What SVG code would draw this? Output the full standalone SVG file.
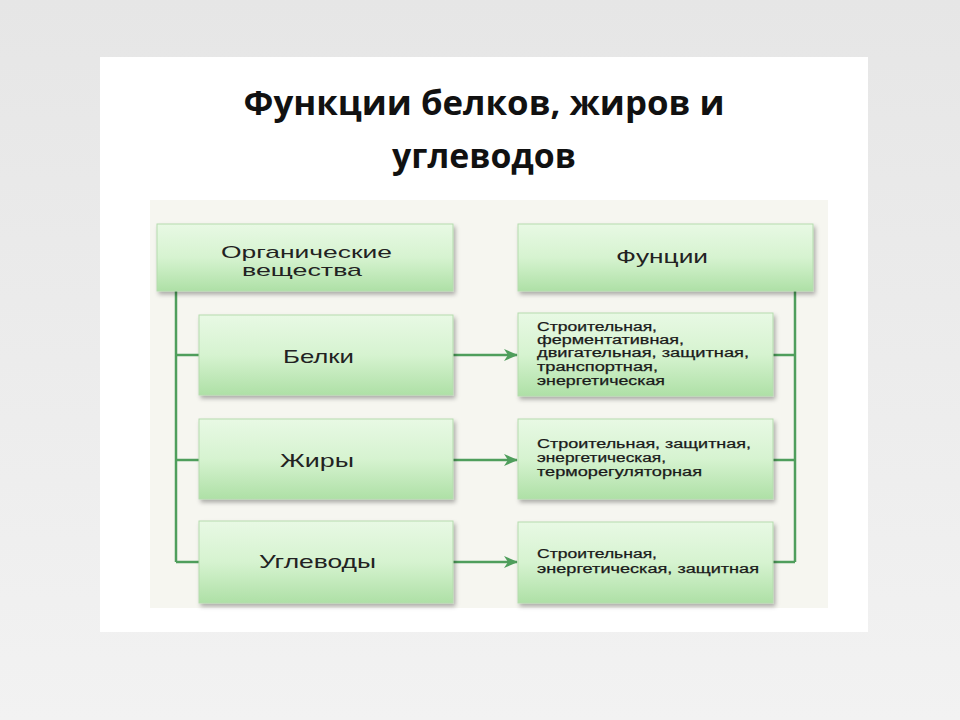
<svg xmlns="http://www.w3.org/2000/svg" width="960" height="720" viewBox="0 0 960 720">
<defs>
<linearGradient id="bg" x1="0" y1="0" x2="0" y2="1">
<stop offset="0" stop-color="#e6e6e6"/><stop offset="1" stop-color="#f2f2f2"/>
</linearGradient>
<linearGradient id="box" x1="0" y1="0" x2="0" y2="1">
<stop offset="0" stop-color="#e8f9e4"/><stop offset="0.5" stop-color="#d6f3d0"/><stop offset="1" stop-color="#aee0a6"/>
</linearGradient>
<filter id="sh" x="-5%" y="-10%" width="115%" height="130%">
<feDropShadow dx="2" dy="3" stdDeviation="2" flood-color="#000" flood-opacity="0.3"/>
</filter>
<marker id="arr" viewBox="0 0 14 14" refX="13" refY="7" markerWidth="14" markerHeight="14" markerUnits="userSpaceOnUse" orient="auto">
<path d="M0,1 L14,7 L0,13 L4,7 Z" fill="#4f9e5c"/>
</marker>
<style>
.b{fill:url(#box);stroke:#b5dcae;stroke-width:1;filter:url(#sh)}
.l{fill:none;stroke:#4f9e5c;stroke-width:2.5}
.t{font-family:"Liberation Sans",Arial,sans-serif;font-size:19px;fill:#222}
.t2{font-family:"Liberation Sans",Arial,sans-serif;font-size:17px;fill:#222}
.s{font-family:"Liberation Sans",Arial,sans-serif;font-size:12.5px;fill:#1a1a1a;stroke:#1a1a1a;stroke-width:0.25}
.h{font-family:"Open Sans","Liberation Sans",sans-serif;font-size:34px;font-weight:bold;fill:#111;text-anchor:middle}
</style>
</defs>
<rect width="960" height="720" fill="url(#bg)"/>
<rect x="100" y="57" width="768" height="575" fill="#fff"/>
<text class="h" x="484" y="115" textLength="481" lengthAdjust="spacingAndGlyphs">Функции белков, жиров и</text>
<text class="h" x="484" y="168" textLength="184" lengthAdjust="spacingAndGlyphs">углеводов</text>
<rect x="150" y="200" width="678" height="408" fill="#f6f6f0"/>
<g id="connectors">
<path class="l" d="M176,291 V562 M176,355 H199 M176,460 H199 M176,562 H199"/>
<path class="l" d="M795,291 V562 M773,355 H795 M773,460 H795 M773,562 H795"/>
<line class="l" x1="453" y1="355" x2="517" y2="355" marker-end="url(#arr)"/>
<line class="l" x1="453" y1="460" x2="517" y2="460" marker-end="url(#arr)"/>
<line class="l" x1="453" y1="562" x2="517" y2="562" marker-end="url(#arr)"/>
</g>
<g id="organic"><rect class="b" x="157" y="224" width="296" height="67"/>
<text class="t2" x="221" y="258" textLength="171" lengthAdjust="spacingAndGlyphs">Органические</text>
<text class="t2" x="242" y="276" textLength="120" lengthAdjust="spacingAndGlyphs">вещества</text></g>
<g id="functions"><rect class="b" x="518" y="224" width="295" height="67"/>
<text class="t" x="616" y="263" textLength="92" lengthAdjust="spacingAndGlyphs">Фунции</text></g>
<g id="belki"><rect class="b" x="199" y="315" width="254" height="80"/>
<text class="t" x="283" y="363" textLength="71" lengthAdjust="spacingAndGlyphs">Белки</text></g>
<g id="zhiry"><rect class="b" x="199" y="419" width="254" height="80"/>
<text class="t" x="280" y="467" textLength="74" lengthAdjust="spacingAndGlyphs">Жиры</text></g>
<g id="uglevody"><rect class="b" x="199" y="521" width="254" height="82"/>
<text class="t" x="259" y="568" textLength="117" lengthAdjust="spacingAndGlyphs">Углеводы</text></g>
<g id="f1"><rect class="b" x="518" y="313" width="255" height="83"/>
<text class="s" x="537" y="331" textLength="120" lengthAdjust="spacingAndGlyphs">Строительная,</text>
<text class="s" x="537" y="344" textLength="147" lengthAdjust="spacingAndGlyphs">ферментативная,</text>
<text class="s" x="537" y="357" textLength="212" lengthAdjust="spacingAndGlyphs">двигательная, защитная,</text>
<text class="s" x="537" y="371" textLength="121" lengthAdjust="spacingAndGlyphs">транспортная,</text>
<text class="s" x="537" y="385" textLength="128" lengthAdjust="spacingAndGlyphs">энергетическая</text></g>
<g id="f2"><rect class="b" x="518" y="419" width="255" height="80"/>
<text class="s" x="537" y="448" textLength="214" lengthAdjust="spacingAndGlyphs">Строительная, защитная,</text>
<text class="s" x="537" y="462" textLength="129" lengthAdjust="spacingAndGlyphs">энергетическая,</text>
<text class="s" x="537" y="476" textLength="165" lengthAdjust="spacingAndGlyphs">терморегуляторная</text></g>
<g id="f3"><rect class="b" x="518" y="522" width="255" height="81"/>
<text class="s" x="537" y="558" textLength="120" lengthAdjust="spacingAndGlyphs">Строительная,</text>
<text class="s" x="537" y="573" textLength="222" lengthAdjust="spacingAndGlyphs">энергетическая, защитная</text></g>
</svg>
